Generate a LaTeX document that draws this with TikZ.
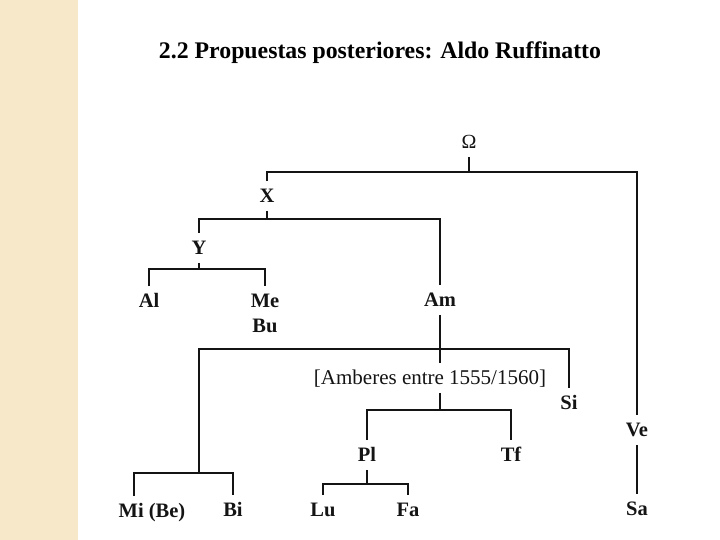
\documentclass[tikz,border=0pt]{standalone}
\usepackage{fontspec}
\setmainfont{Liberation Serif}
\usetikzlibrary{calc}
\definecolor{stripbeige}{RGB}{246,232,200}
\definecolor{inkblack}  {RGB}{ 20, 20, 20}
\tikzset{
  branch/.style     = {inkblack, line width=1.4pt},
  witness/.style    = {inkblack, font=\fontsize{20.5}{24}\selectfont\bfseries,
                       text height=13.5pt, text depth=0pt,
                       inner xsep=2pt, inner ysep=8pt},
  print note/.style = {inkblack, font=\fontsize{21}{24}\selectfont,
                       text height=13.5pt, text depth=0pt,
                       inner xsep=2pt, inner ysep=8pt},
}

\begin{document}
\begin{tikzpicture}[x=1pt, y=-1pt]

  % page frame and left strip
  \useasboundingbox (0,0) rectangle (720,540);
  \fill[white] (0,0) rectangle (720,540);
  \fill[stripbeige] (0,0) rectangle (78,540);

  % title
  \node[font=\fontsize{23.8}{28}\selectfont\bfseries] (title) at (380,53)
    {2.2 Propuestas posteriores: Aldo Ruffinatto};

  % ── witnesses ─────────────────────────────────────────────────────────────
  \node[witness, font=\fontsize{20}{24}\selectfont] (Om) at (469,142) {Ω};
  \node[witness] (X)  at (267,196) {X};
  \node[witness] (Y)  at (199,248) {Y};
  \node[witness] (Al) at (149,301) {Al};
  \node[witness] (Me) at (265,301) {Me};
  \node[witness] (Bu) at (265,326) {Bu};
  \node[witness] (Am) at (440,300) {Am};
  \node[print note] (Amb) at (430,378) {[Amberes entre 1555/1560]};
  \node[witness] (Si) at (569,403) {Si};
  \node[witness] (Ve) at (637,430) {Ve};
  \node[witness] (Pl) at (367,455) {Pl};
  \node[witness] (Tf) at (511,455) {Tf};
  \node[witness] (Mi) at (152,511) {Mi (Be)};
  \node[witness] (Bi) at (233,510) {Bi};
  \node[witness] (Lu) at (323,510) {Lu};
  \node[witness] (Fa) at (408,510) {Fa};
  \node[witness] (Sa) at (637,509) {Sa};

  % ── branches ──────────────────────────────────────────────────────────────
  % Omega -> X, Ve
  \coordinate (om bar) at ($(Om.south)+(0,15)$);
  \draw[branch] (Om.south) -- (om bar);
  \draw[branch] (X.north) |- (om bar) -| (Ve.north);

  % X -> Y, Am
  \coordinate (x bar) at ($(X.south)+(0,8)$);
  \draw[branch] (X.south) -- (x bar);
  \draw[branch] (Y.north) |- (x bar) -| (Am.north);

  % Y -> Al, Me
  \coordinate (y bar) at ($(Y.south)+(0,6)$);
  \draw[branch] (Y.south) -- (y bar);
  \draw[branch] (Al.north) |- (y bar) -| (Me.north);

  % Am -> (Mi, Bi), Amberes, Si
  \coordinate (am bar) at ($(Am.south)+(0,34)$);
  \coordinate (mi jn)  at (199,473);
  \draw[branch] (Am.south) -- (Am.south |- Amb.north);
  \draw[branch] (mi jn) |- (am bar) -| (Si.north);
  \draw[branch] ($(Mi.north)+(-18,0)$) |- (mi jn) -| (Bi.north);

  % Amberes -> Pl, Tf
  \coordinate (amb bar) at ($(Am.south |- Amb.south)+(0,17)$);
  \draw[branch] (Am.south |- Amb.south) -- (amb bar);
  \draw[branch] (Pl.north) |- (amb bar) -| (Tf.north);

  % Pl -> Lu, Fa
  \coordinate (pl bar) at ($(Pl.south)+(0,14)$);
  \draw[branch] (Pl.south) -- (pl bar);
  \draw[branch] (Lu.north) |- (pl bar) -| (Fa.north);

  % Ve -> Sa
  \draw[branch] (Ve.south) -- (Sa.north);

\end{tikzpicture}
\end{document}
